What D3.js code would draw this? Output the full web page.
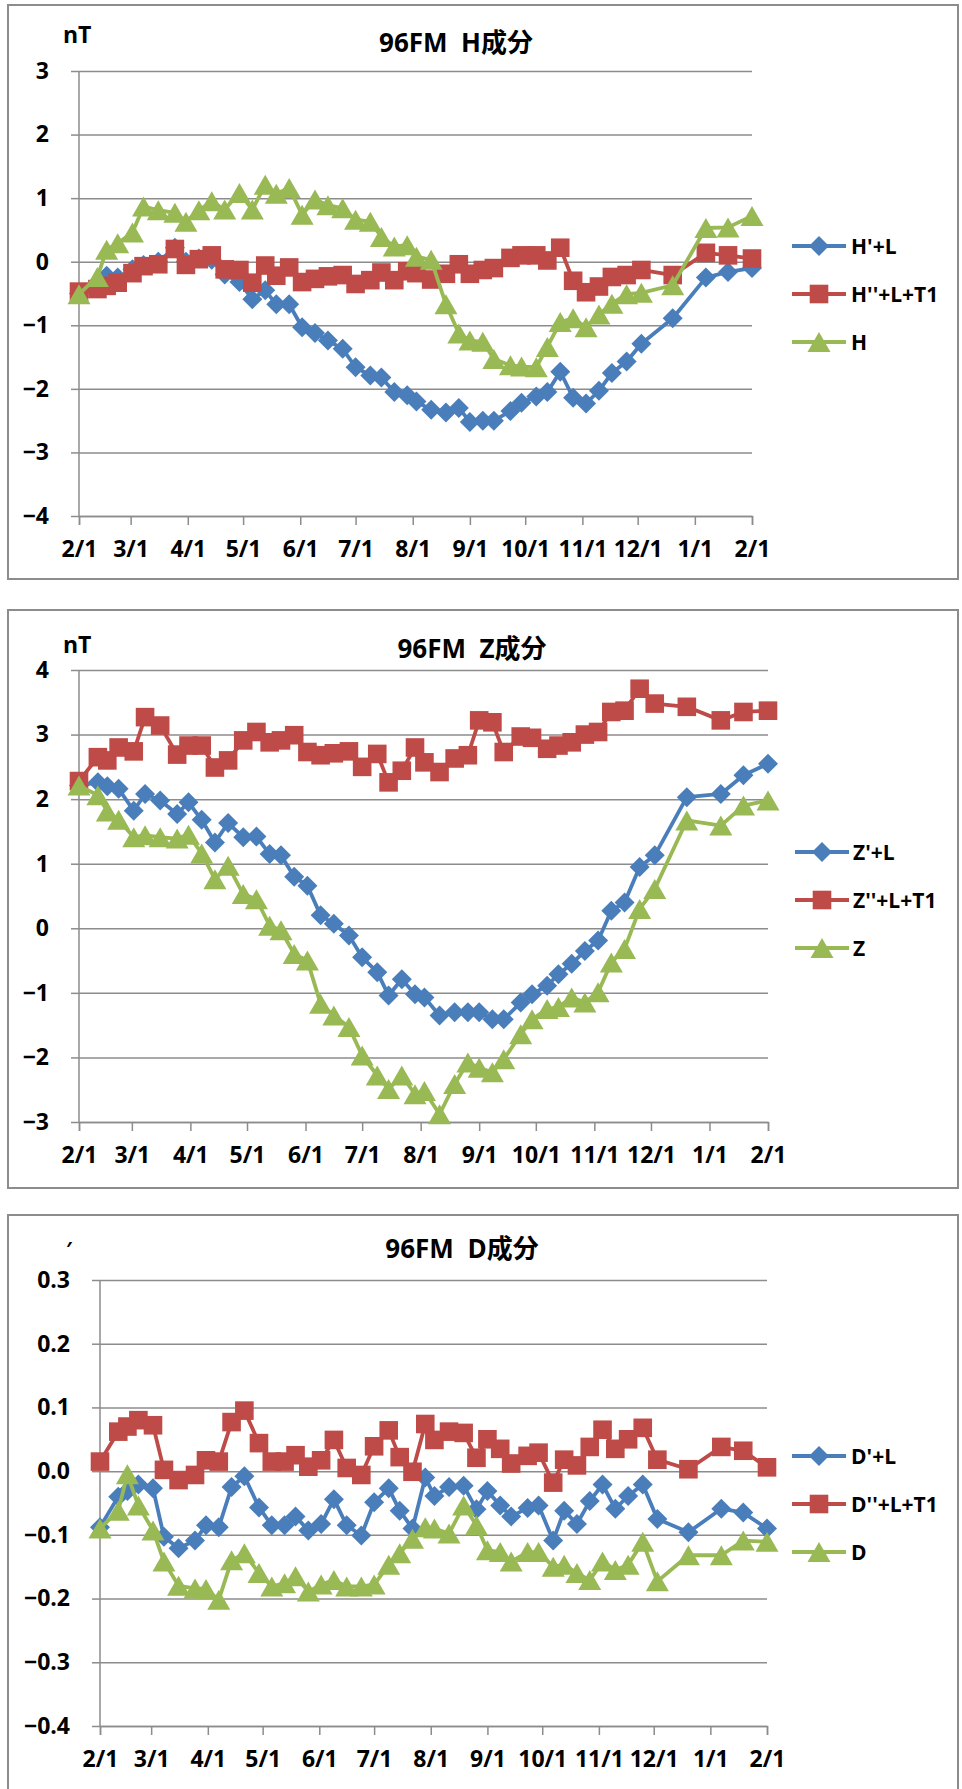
<!DOCTYPE html>
<html><head><meta charset="utf-8">
<script src="https://cdn.jsdelivr.net/npm/d3@7"></script>
<style>
body{margin:0;background:#fff}
svg{display:block}
text{font-family:"Open Sans","Noto Sans CJK JP",sans-serif;font-weight:700;fill:#000}
</style>
</head><body>
<svg id="chart" width="962" height="1789"></svg>
<script>
// ---------------- data ----------------
const dates = ["2009-02-01","2009-02-11","2009-02-16","2009-02-22","2009-03-02","2009-03-08","2009-03-16","2009-03-25","2009-03-31","2009-04-07","2009-04-14","2009-04-21","2009-04-29","2009-05-06","2009-05-13","2009-05-19","2009-05-26","2009-06-02","2009-06-09","2009-06-16","2009-06-24","2009-07-01","2009-07-09","2009-07-15","2009-07-22","2009-07-29","2009-08-03","2009-08-11","2009-08-19","2009-08-26","2009-09-01","2009-09-08","2009-09-14","2009-09-23","2009-09-29","2009-10-07","2009-10-13","2009-10-20","2009-10-27","2009-11-03","2009-11-10","2009-11-17","2009-11-25","2009-12-03","2009-12-20","2010-01-07","2010-01-19","2010-02-01"];

const xTickDates = ["2009-02-01","2009-03-01","2009-04-01","2009-05-01","2009-06-01","2009-07-01","2009-08-01","2009-09-01","2009-10-01","2009-11-01","2009-12-01","2010-01-01","2010-02-01"];
const xTickLabels = ["2/1","3/1","4/1","5/1","6/1","7/1","8/1","9/1","10/1","11/1","12/1","1/1","2/1"];

// H component (nT)
const hPrimeL = [-0.50,-0.40,-0.22,-0.25,-0.12,-0.05,0.00,0.22,0.00,0.05,0.03,-0.20,-0.32,-0.59,-0.45,-0.67,-0.67,-1.03,-1.12,-1.24,-1.37,-1.66,-1.79,-1.82,-2.05,-2.10,-2.20,-2.33,-2.37,-2.30,-2.52,-2.50,-2.50,-2.35,-2.22,-2.12,-2.05,-1.73,-2.14,-2.23,-2.03,-1.75,-1.57,-1.29,-0.89,-0.25,-0.16,-0.10];
const hDoubleLT1 = [-0.47,-0.43,-0.38,-0.33,-0.18,-0.07,-0.04,0.20,-0.05,0.04,0.10,-0.12,-0.13,-0.33,-0.06,-0.22,-0.09,-0.32,-0.27,-0.23,-0.21,-0.35,-0.29,-0.17,-0.29,-0.15,-0.18,-0.28,-0.19,-0.04,-0.19,-0.13,-0.10,0.06,0.10,0.10,0.02,0.22,-0.30,-0.48,-0.39,-0.24,-0.21,-0.13,-0.21,0.14,0.10,0.05];
const hObs = [-0.51,-0.24,0.19,0.29,0.46,0.87,0.81,0.77,0.63,0.81,0.95,0.82,1.08,0.82,1.21,1.07,1.16,0.74,0.98,0.89,0.84,0.66,0.63,0.39,0.24,0.26,0.08,0.03,-0.67,-1.13,-1.24,-1.26,-1.53,-1.63,-1.65,-1.66,-1.34,-0.95,-0.89,-1.03,-0.83,-0.66,-0.51,-0.49,-0.37,0.53,0.54,0.72];
const hTicks = [-4,-3,-2,-1,0,1,2,3];

// Z component (nT)
const zPrimeL = [2.21,2.26,2.20,2.16,1.82,2.08,1.98,1.77,1.95,1.68,1.33,1.63,1.41,1.42,1.15,1.13,0.80,0.66,0.20,0.07,-0.11,-0.45,-0.68,-1.04,-0.79,-1.02,-1.07,-1.35,-1.30,-1.30,-1.30,-1.41,-1.41,-1.15,-1.02,-0.89,-0.71,-0.55,-0.35,-0.19,0.27,0.40,0.95,1.13,2.03,2.08,2.37,2.55];
const zDoubleLT1 = [2.28,2.65,2.60,2.80,2.74,3.27,3.14,2.69,2.83,2.83,2.49,2.60,2.91,3.04,2.88,2.91,2.99,2.73,2.68,2.71,2.74,2.50,2.70,2.26,2.44,2.80,2.57,2.42,2.63,2.68,3.22,3.19,2.73,2.97,2.95,2.78,2.83,2.88,3.00,3.04,3.35,3.37,3.71,3.48,3.43,3.22,3.35,3.37];
const zObs = [2.21,2.06,1.81,1.68,1.41,1.44,1.41,1.39,1.45,1.16,0.76,0.97,0.53,0.45,0.04,-0.03,-0.40,-0.50,-1.17,-1.35,-1.53,-1.97,-2.28,-2.49,-2.28,-2.57,-2.52,-2.88,-2.41,-2.08,-2.16,-2.23,-2.03,-1.64,-1.41,-1.25,-1.22,-1.07,-1.15,-0.99,-0.53,-0.32,0.30,0.61,1.67,1.59,1.90,1.98];
const zTicks = [-3,-2,-1,0,1,2,3,4];

// D component (minutes)
const dPrimeL = [-0.088,-0.040,-0.031,-0.021,-0.027,-0.103,-0.121,-0.109,-0.085,-0.088,-0.025,-0.008,-0.057,-0.085,-0.085,-0.071,-0.093,-0.083,-0.044,-0.085,-0.101,-0.049,-0.027,-0.062,-0.090,-0.010,-0.039,-0.025,-0.023,-0.060,-0.031,-0.054,-0.071,-0.058,-0.054,-0.109,-0.062,-0.083,-0.047,-0.021,-0.059,-0.039,-0.021,-0.075,-0.096,-0.059,-0.065,-0.090];
const dDoubleLT1 = [0.015,0.062,0.070,0.080,0.072,0.002,-0.014,-0.006,0.017,0.015,0.077,0.095,0.044,0.015,0.015,0.025,0.007,0.017,0.049,0.005,-0.006,0.039,0.064,0.022,-0.001,0.074,0.049,0.062,0.060,0.021,0.050,0.035,0.012,0.024,0.029,-0.018,0.018,0.009,0.038,0.065,0.035,0.050,0.068,0.018,0.003,0.038,0.032,0.006];
const dObs = [-0.090,-0.062,-0.005,-0.054,-0.093,-0.142,-0.180,-0.184,-0.185,-0.202,-0.140,-0.129,-0.160,-0.181,-0.176,-0.165,-0.189,-0.178,-0.171,-0.181,-0.181,-0.178,-0.147,-0.129,-0.106,-0.088,-0.090,-0.098,-0.054,-0.085,-0.124,-0.127,-0.142,-0.127,-0.127,-0.150,-0.147,-0.160,-0.171,-0.142,-0.155,-0.147,-0.111,-0.173,-0.132,-0.132,-0.109,-0.111];
const dTicks = [-0.4,-0.3,-0.2,-0.1,0.0,0.1,0.2,0.3];

const hNames = ["H'+L","H''+L+T1","H"];
const zNames = ["Z'+L","Z''+L+T1","Z"];
const dNames = ["D'+L","D''+L+T1","D"];
const titles = ["96FM\u00a0\u00a0H成分","96FM\u00a0\u00a0Z成分","96FM\u00a0\u00a0D成分"];
const units = ["nT","nT","\u2032"];

// ---------------- styles / layout ----------------
const colors = ["#4A7EBB","#BE4B48","#98B954"];
const markers = ["diamond","square","triangle"];
const parse = d3.timeParse("%Y-%m-%d");
const svg = d3.select("#chart");

function markerPath(type){
  if(type==="diamond"){const r=10;return `M0,${-r}L${r},0L0,${r}L${-r},0Z`;}
  if(type==="square"){const s=9.3;return `M${-s},${-s}H${s}V${s}H${-s}Z`;}
  const w=11.5,h=10;return `M0,${-h}L${w},${h}L${-w},${h}Z`;
}

const panels = [
  {frame:[8,5,950,574], plot:[79,752,71,516], dom:[-4,3], ticks:hTicks, fmt:d3.format("d"),
   series:[hPrimeL,hDoubleLT1,hObs], names:hNames, title:titles[0], titleX:456, titleY:52,
   unit:units[0], unitX:63, unitY:43, unitSize:23, legX:[792,846,851], legY:[246,294,342]},
  {frame:[8,610,950,578], plot:[79,768,670,1122], dom:[-3,4], ticks:zTicks, fmt:d3.format("d"),
   series:[zPrimeL,zDoubleLT1,zObs], names:zNames, title:titles[1], titleX:472, titleY:658,
   unit:units[1], unitX:63, unitY:653, unitSize:23, legX:[795,849,853], legY:[852,900,948]},
  {frame:[8,1215,950,620], plot:[100,767,1280,1726], dom:[-0.4,0.3], ticks:dTicks, fmt:d3.format(".1f"),
   series:[dPrimeL,dDoubleLT1,dObs], names:dNames, title:titles[2], titleX:462, titleY:1258,
   unit:units[2], unitX:66, unitY:1256, unitSize:20, legX:[792,846,851], legY:[1456,1504,1552]}
];

panels.forEach(p=>{
  const g = svg.append("g");
  const [fx,fy,fw,fh] = p.frame;
  g.append("rect").attr("x",fx).attr("y",fy).attr("width",fw).attr("height",fh)
    .attr("fill","#fff").attr("stroke","#8c8c8c").attr("stroke-width",2);
  const [x0,x1,y0,y1] = p.plot;
  const x = d3.scaleTime().domain([parse(xTickDates[0]),parse(xTickDates[xTickDates.length-1])]).range([x0,x1]);
  const y = d3.scaleLinear().domain(p.dom).range([y1,y0]);

  // gridlines (with outer tick stubs)
  const grid = g.append("g").attr("transform",`translate(${x0},0)`)
    .call(d3.axisLeft(y).tickValues(p.ticks).tickSizeInner(-(x1-x0)).tickSizeOuter(0).tickFormat(""));
  grid.select(".domain").remove();
  grid.selectAll(".tick line").attr("stroke","#8c8c8c").attr("stroke-width",1.5);
  const ya = g.append("g").attr("transform",`translate(${x0},0)`)
    .call(d3.axisLeft(y).tickValues(p.ticks).tickSize(8).tickPadding(22).tickFormat(p.fmt));
  ya.select(".domain").attr("stroke","#8c8c8c").attr("stroke-width",1.5).attr("d",`M0,${y0}V${y1}`);
  ya.selectAll(".tick line").attr("stroke","#8c8c8c").attr("stroke-width",1.5);
  ya.selectAll("text").style("font-size","23px").attr("fill","#000").attr("font-family",null);

  const xa = g.append("g").attr("transform",`translate(0,${y1})`)
    .call(d3.axisBottom(x).tickValues(xTickDates.map(parse)).tickSize(9).tickPadding(16)
      .tickFormat((d,i)=>xTickLabels[i]));
  xa.select(".domain").attr("stroke","#8c8c8c").attr("stroke-width",1.5);
  xa.selectAll(".tick line").attr("stroke","#8c8c8c").attr("stroke-width",1.5);
  xa.selectAll("text").style("font-size","23px").attr("fill","#000").attr("font-family",null);

  // title and unit
  g.append("text").attr("x",p.titleX).attr("y",p.titleY).attr("text-anchor","middle")
    .style("font-size","26px").text(p.title);
  g.append("text").attr("x",p.unitX).attr("y",p.unitY).style("font-size",p.unitSize+"px").text(p.unit);

  // series
  const line = d3.line().x((d,i)=>x(parse(dates[i]))).y(d=>y(d));
  p.series.forEach((vals,k)=>{
    const sg = g.append("g");
    sg.append("path").datum(vals).attr("d",line).attr("fill","none")
      .attr("stroke",colors[k]).attr("stroke-width",3.8).attr("stroke-linejoin","round");
    sg.selectAll("path.m").data(vals).join("path").attr("class","m")
      .attr("d",markerPath(markers[k]))
      .attr("transform",(d,i)=>`translate(${x(parse(dates[i]))},${y(d)})`)
      .attr("fill",colors[k]);
  });

  // legend
  p.names.forEach((nm,k)=>{
    const ly = p.legY[k];
    const lg = g.append("g");
    lg.append("line").attr("x1",p.legX[0]).attr("x2",p.legX[1]).attr("y1",ly).attr("y2",ly)
      .attr("stroke",colors[k]).attr("stroke-width",3.8);
    lg.append("path").attr("d",markerPath(markers[k]))
      .attr("transform",`translate(${(p.legX[0]+p.legX[1])/2},${ly})`).attr("fill",colors[k]);
    lg.append("text").attr("x",p.legX[2]).attr("y",ly).attr("dy","0.36em")
      .style("font-size","21px").text(nm);
  });
});
</script>
</body></html>
